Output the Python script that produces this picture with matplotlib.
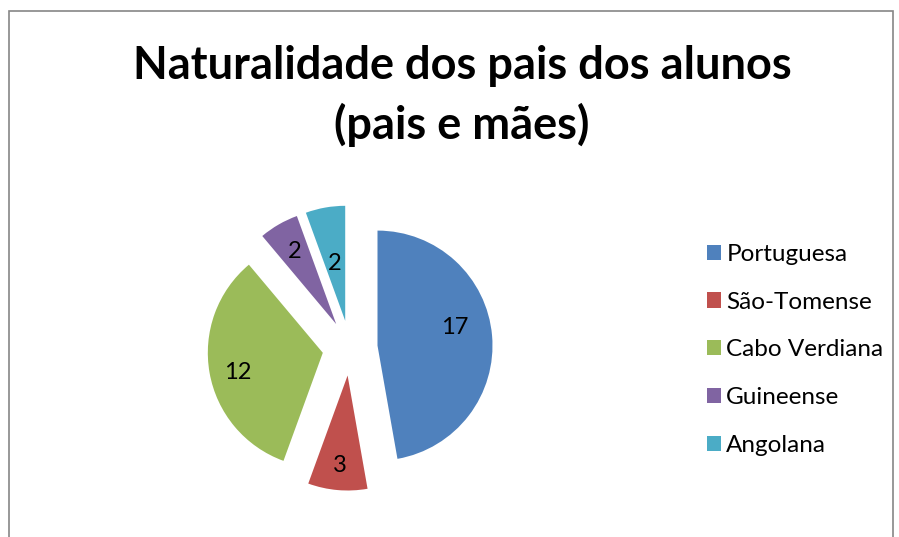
import matplotlib.pyplot as plt
import numpy as np
from matplotlib.patches import Rectangle

categories = ['Portuguesa', 'São-Tomense', 'Cabo Verdiana', 'Guineense', 'Angolana']
values = [17, 3, 12, 2, 2]
colors = ['#4F81BD', '#C0504D', '#9BBB59', '#8064A2', '#4BACC6']
# label placement: distance from pie centre (in radii) and angle nudge (deg)
label_dist = [0.93, 1.03, 1.0, 0.97, 0.75]
label_nudge = [6, 0, 2.5, 0, 0]

plt.rcParams['font.family'] = ['Lato', 'DejaVu Sans']

fig = plt.figure(figsize=(8.99, 5.37), dpi=100)

# chart area border
fig.patches.append(Rectangle((9 / 899, -0.05), 884 / 899, 1.05 - 11 / 537,
                             transform=fig.transFigure, fill=False,
                             edgecolor='#868686', linewidth=1.2))

fig.text(462 / 899, 1 - 66 / 537, 'Naturalidade dos pais dos alunos',
         ha='center', va='center', fontsize=32.5, fontweight='bold')
fig.text(462 / 899, 1 - 125 / 537, '(pais e mães)',
         ha='center', va='center', fontsize=32.5, fontweight='bold')

S = 160
ax = fig.add_axes([(350 - S) / 899, (189 - S) / 537, 2 * S / 899, 2 * S / 537])
wedges, _ = ax.pie(values, colors=colors, startangle=90, counterclock=False,
                   explode=[0.24] * len(values), radius=1,
                   wedgeprops=dict(linewidth=0))
lim = S / 115
ax.set_xlim(-lim, lim)
ax.set_ylim(-lim, lim)
ax.set_aspect('equal')
ax.axis('off')

for w, v, d, n in zip(wedges, values, label_dist, label_nudge):
    ang = np.deg2rad((w.theta1 + w.theta2) / 2 + n)
    ax.text(d * np.cos(ang), d * np.sin(ang), str(v), ha='center', va='center',
            fontsize=17)

leg = fig.legend(wedges, categories, loc='upper left',
                 bbox_to_anchor=(685 / 899, 1 - 222 / 537), frameon=False,
                 fontsize=17.5, handlelength=0.6, handleheight=0.6,
                 handletextpad=0.2, labelspacing=1.1)

fig.savefig('out.png', dpi=100)
